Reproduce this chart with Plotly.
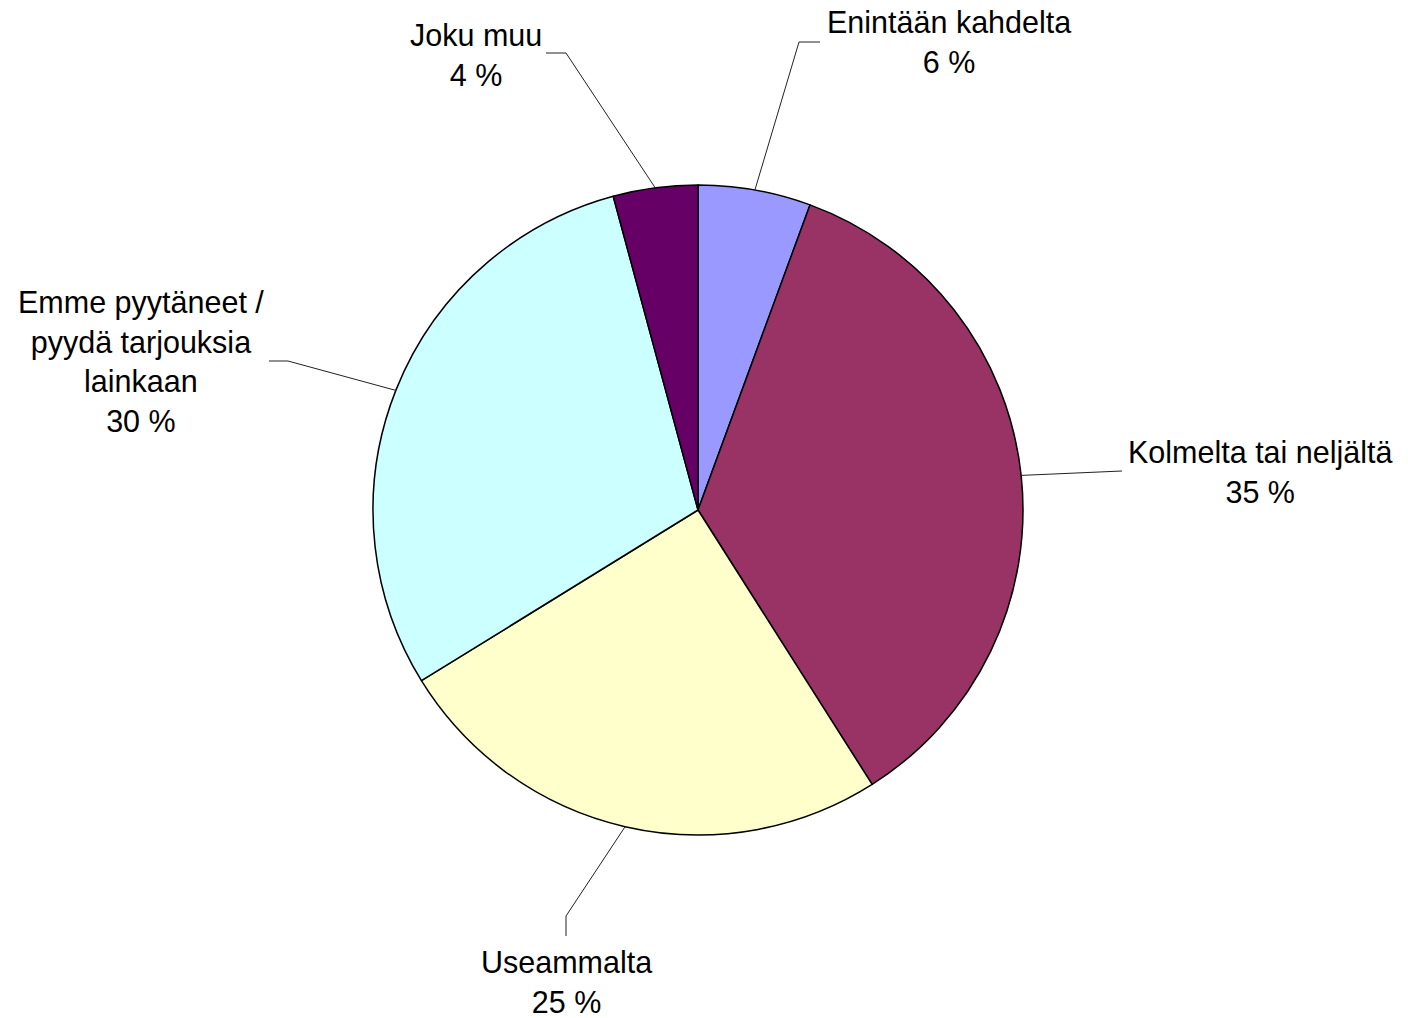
import math
import plotly.graph_objects as go

# ---- data ----
categories = ["Enintään kahdelta", "Kolmelta tai neljältä", "Useammalta",
              "Emme pyytäneet /<br>pyydä tarjouksia<br>lainkaan", "Joku muu"]
values = [5.6, 35.4, 25.2, 29.6, 4.2]
colors = ["#9999FF", "#993366", "#FFFFCC", "#CCFFFF", "#660066"]

# ---- layout constants (page pixels) ----
W, H = 1408, 1018
OFF = 8  # page body margin; axes are set so data coords equal page pixels
CX, CY, R = 698, 510, 325
label_pos = [(949, 42), (1260, 472), (566, 982), (141, 361), (476, 55)]
elbows = [[(799, 42), (820, 42)],
          [(1122, 471)],
          [(566, 916), (566, 936)],
          [(288, 361), (269, 361)],
          [(566, 53), (546, 53)]]
FONT = dict(family="Liberation Sans, Arial, sans-serif", size=30.5, color="black")

fig = go.Figure()
fig.add_trace(go.Pie(
    labels=categories, values=values, sort=False, direction="clockwise",
    rotation=0, textinfo="none", hoverinfo="skip",
    marker=dict(colors=colors, line=dict(color="black", width=1.5)),
    domain=dict(x=[(CX - OFF - R) / W, (CX - OFF + R) / W],
                y=[(H - (CY - OFF) - R) / H, (H - (CY - OFF) + R) / H]),
    showlegend=False,
))

total = sum(values)
cum = 0.0
shapes = []
annotations = []
for i, (cat, v) in enumerate(zip(categories, values)):
    mid = (cum + v / 2) / total * 2 * math.pi
    cum += v
    ex = CX + R * math.sin(mid)
    ey = CY - R * math.cos(mid)
    pts = [(ex, ey)] + elbows[i]
    path = "M " + " L ".join(f"{x:.1f},{y:.1f}" for x, y in pts)
    shapes.append(dict(type="path", path=path, xref="x", yref="y",
                       line=dict(color="#222222", width=1)))
    lx, ly = label_pos[i]
    annotations.append(dict(x=lx, y=ly, xref="x", yref="y",
                            text=f"{cat}<br>{round(v / total * 100)} %",
                            showarrow=False, xanchor="center", yanchor="middle",
                            align="center", font=FONT))

fig.update_layout(
    width=W, height=H, margin=dict(l=0, r=0, t=0, b=0),
    paper_bgcolor="white", plot_bgcolor="rgba(0,0,0,0)",
    xaxis=dict(range=[OFF, W + OFF], visible=False, fixedrange=True),
    yaxis=dict(range=[H + OFF, OFF], visible=False, fixedrange=True),
    shapes=shapes, annotations=annotations, hovermode=False,
)
fig.write_html("out.html", config={"displayModeBar": False})
